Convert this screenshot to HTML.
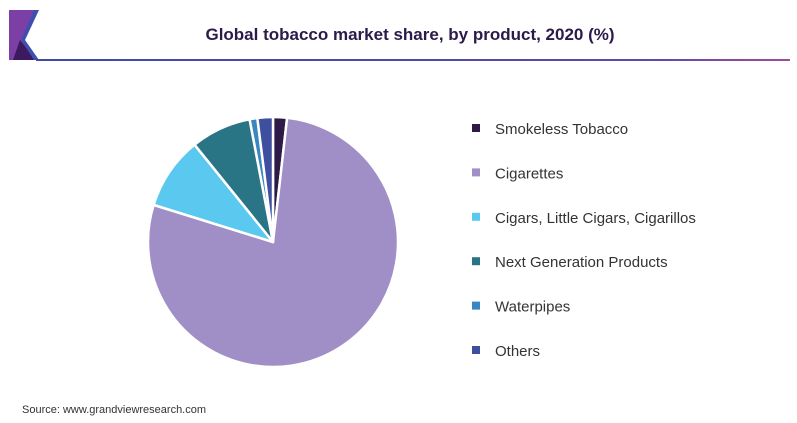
<!DOCTYPE html>
<html><head><meta charset="utf-8"><style>
body{margin:0;background:#fff;font-family:"Liberation Sans",sans-serif;}
#wrap{position:relative;width:797px;height:423px;overflow:hidden;}
</style></head><body>
<div id="wrap">
<svg id="svg" width="797" height="423">
  <g>
    <polygon points="9,10 36,10 22,40 36,60 9,60" fill="#7b3fa6"/>
    <polygon points="20,40 36,60 13,60" fill="#3b1a5e"/>
    <polygon points="34,10 39,10 25,40 39,60 34,60 21,40" fill="#3f4fb0"/>
  </g>
  <defs><linearGradient id="lg" x1="0" x2="1"><stop offset="0" stop-color="#3d4aa6"/><stop offset="0.8" stop-color="#5a4aa6"/><stop offset="1" stop-color="#a04a9a"/></linearGradient></defs>
  <rect x="36" y="59" width="754" height="2" fill="url(#lg)"/>
  <text x="410" y="40" text-anchor="middle" font-size="17" font-weight="bold" fill="#2b1a4a">Global tobacco market share, by product, 2020 (%)</text>
  <g id="pie"></g>
  <g id="legend"></g>
  <text x="22" y="413" font-size="11" fill="#333">Source: www.grandviewresearch.com</text>
</svg>
</div>
<script>
const categories=["Smokeless Tobacco","Cigarettes","Cigars, Little Cigars, Cigarillos","Next Generation Products","Waterpipes","Others"];
const values=[1.8,78,9.4,7.8,1,2];
const colors=["#2e1a47","#a08fc6","#5bc8ef","#2a7585","#3a86c0","#3e4fa0"];
const NS="http://www.w3.org/2000/svg";
const cx=273,cy=242,r=125;
const total=values.reduce((a,b)=>a+b,0);
const pie=document.getElementById('pie');
function pt(a){return [cx+r*Math.sin(a),cy-r*Math.cos(a)];}
let a0=0;
values.forEach((v,i)=>{
  const a1=a0+v/total*2*Math.PI;
  const p0=pt(a0),p1=pt(a1);
  const large=(a1-a0)>Math.PI?1:0;
  const p=document.createElementNS(NS,'path');
  p.setAttribute('d',`M${cx},${cy}L${p0[0]},${p0[1]}A${r},${r} 0 ${large} 1 ${p1[0]},${p1[1]}Z`);
  p.setAttribute('fill',colors[i]);
  p.setAttribute('stroke','#fff');
  p.setAttribute('stroke-width','2.5');
  p.setAttribute('stroke-linejoin','round');
  
  
  pie.appendChild(p);
  a0=a1;
});
const leg=document.getElementById('legend');
categories.forEach((c,i)=>{
  const y=129+i*44.4;
  const g=document.createElementNS(NS,'g');
  
  
  const s=document.createElementNS(NS,'rect');
  s.setAttribute('x',472);s.setAttribute('y',y-5);s.setAttribute('width',8);s.setAttribute('height',8);
  s.setAttribute('fill',colors[i]);
  
  
  const t=document.createElementNS(NS,'text');
  t.setAttribute('x',495);t.setAttribute('y',y+5);
  t.setAttribute('font-size','15');t.setAttribute('fill','#333');
  
  
  t.textContent=c;
  g.appendChild(s);g.appendChild(t);leg.appendChild(g);
});
</script>
</body></html>
